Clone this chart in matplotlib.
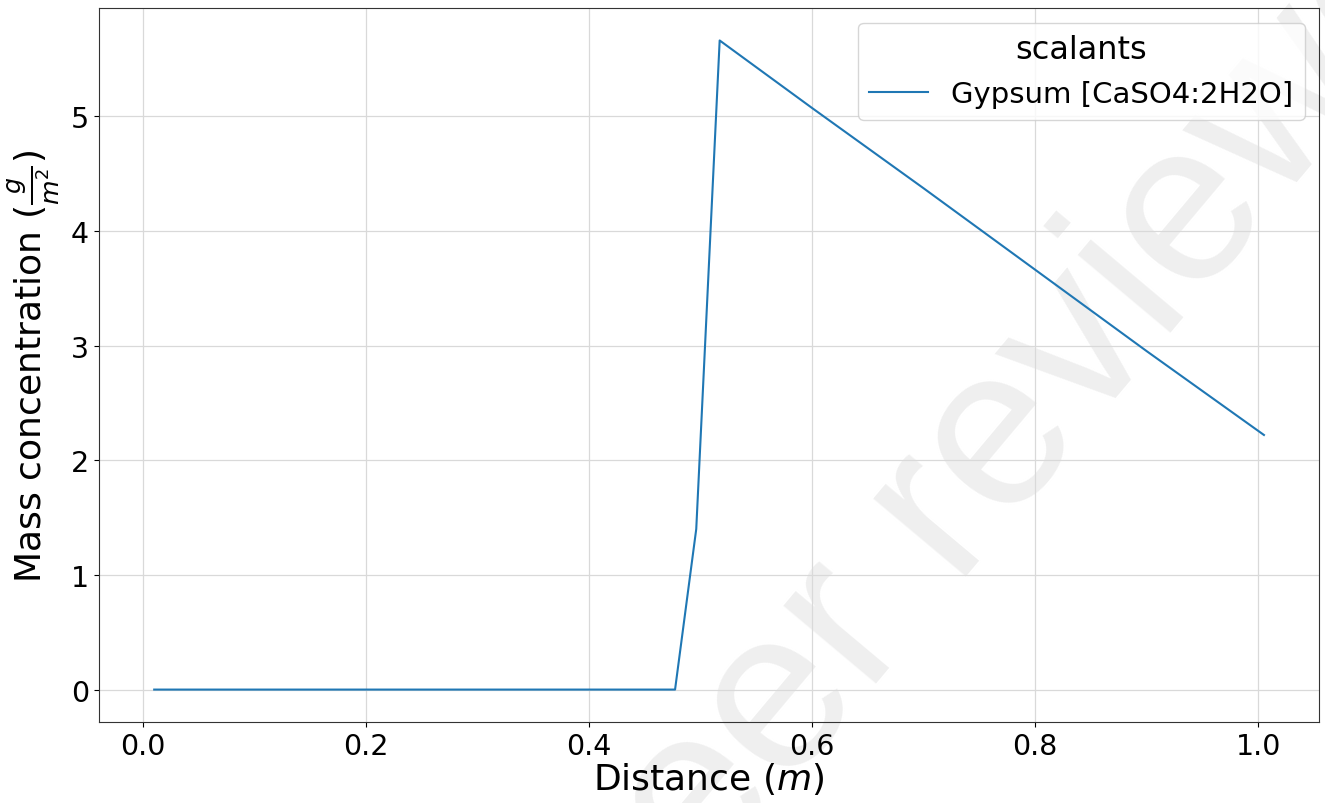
import matplotlib
matplotlib.use("Agg")
import matplotlib.pyplot as plt

# Gypsum scale mass concentration along the channel
distance = [0.01, 0.10, 0.20, 0.30, 0.40, 0.477, 0.496, 0.517, 0.60, 0.70, 0.80, 0.90, 1.005]
gypsum = [0.0, 0.0, 0.0, 0.0, 0.0, 0.0, 1.40, 5.66, 5.07, 4.37, 3.66, 2.95, 2.22]
series_label = "Gypsum [CaSO4:2H2O]"
legend_title = "scalants"

fig = plt.figure(figsize=(13.25, 8.04), dpi=100, facecolor="white")
ax = fig.add_axes([0.0745, 0.1007, 0.9213, 0.8881])
ax.patch.set_alpha(0.0)

# faint diagonal watermark behind the axes content
fig.text(1.167, 1.142, "Preprint not peer reviewed", fontsize=165,
         family="Liberation Sans", color="#efefef", rotation=50,
         rotation_mode="anchor", ha="right", va="baseline", zorder=-5)

ax.plot(distance, gypsum, color="#1f77b4", linewidth=1.5, label=series_label)

ax.grid(True, color="#d9d9d9", linewidth=0.9)
ax.set_axisbelow(True)
ax.set_xticks([0.0, 0.2, 0.4, 0.6, 0.8, 1.0])
ax.set_yticks([0, 1, 2, 3, 4, 5])
ax.tick_params(labelsize=20.5)
for s in ax.spines.values():
    s.set_color("#333333")

ax.set_xlabel("Distance ($m$)", fontsize=26, labelpad=0)
ax.set_ylabel(r"Mass concentration ($\frac{g}{m^2}$)", fontsize=26, labelpad=6)

leg = ax.legend(title=legend_title, loc="upper right", fontsize=21,
                title_fontsize=23)

fig.savefig("out.png", dpi=100, facecolor="white")
